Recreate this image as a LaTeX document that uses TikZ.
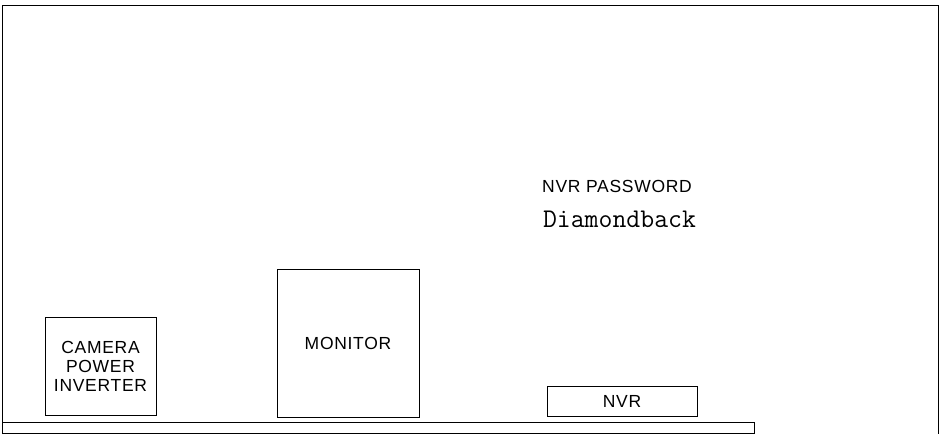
\documentclass[tikz,border=0pt]{standalone}
\usepackage{fontspec}
\setsansfont{Liberation Sans}[LetterSpace=4]
\begin{document}
\begin{tikzpicture}[x=1pt,y=-1pt,
	unit/.style={draw, line width=0.9pt, inner sep=0pt},
	lbl/.style={font=\sffamily\fontsize{17.5}{19}\selectfont, align=center}]
	    \useasboundingbox (0,0) rectangle (947,434);
	    \draw[line width=1pt] (2,434) -- (2,5) -- (938,5) -- (938,434);
	    \node[unit, minimum width=752pt, minimum height=11pt] (shelf) at (378,427.5) {};
	    \node[unit, lbl, minimum width=111pt, minimum height=98pt] (camera) at (100.5,366.5) {CAMERA\\POWER\\INVERTER};
	    \node[unit, lbl, minimum width=142pt, minimum height=148pt] (monitor) at (348,343) {MONITOR};
	    \node[unit, lbl, minimum width=150pt, minimum height=30pt] (nvr) at (622,401) {NVR};
	    \node[lbl] (pwtitle) at (617,186) {NVR PASSWORD};
	    \node[font=\ttfamily\fontsize{27}{30}\selectfont] (pw) at (619.5,219) {Diamondback};
        \end{tikzpicture}
\end{document}
